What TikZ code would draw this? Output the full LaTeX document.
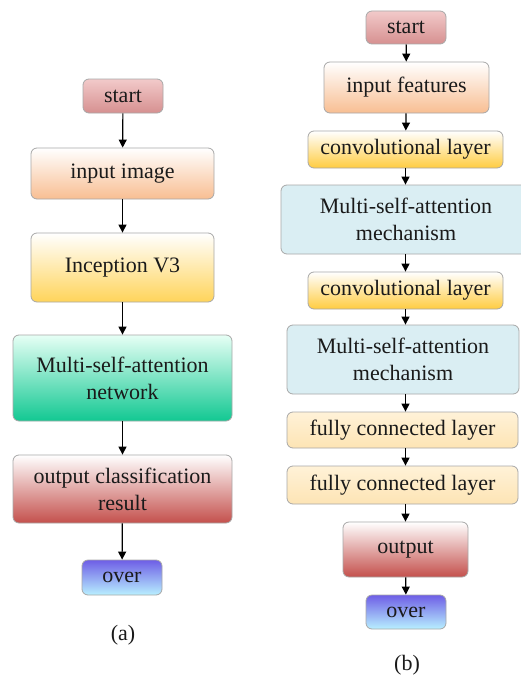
\documentclass[tikz,border=0pt]{standalone}
\usepackage{fontspec}
\setmainfont{Liberation Serif}
\usetikzlibrary{arrows.meta}
\definecolor{txt}{HTML}{1A1A1A}
\definecolor{bord}{HTML}{A8A8A8}
\definecolor{startT}{HTML}{F2CACA}
\definecolor{startB}{HTML}{D69090}
\definecolor{peach}{HTML}{F8BE92}
\definecolor{yell}{HTML}{FFD45A}
\definecolor{tealT}{HTML}{E6FFF5}
\definecolor{tealM}{HTML}{44E2B4}
\definecolor{tealB}{HTML}{12C892}
\definecolor{redB}{HTML}{C4504C}
\definecolor{overT}{HTML}{6E5EE6}
\definecolor{overB}{HTML}{B8F0FF}
\definecolor{lblue}{HTML}{DAEEF3}
\definecolor{fcT}{HTML}{FFF2D8}
\definecolor{fcB}{HTML}{FDE4B4}
\definecolor{convB}{HTML}{FFCC40}
\tikzset{
  box/.style={draw=bord, line width=0.8pt, rounded corners=6pt, align=center,
    inner sep=0pt, text=txt, font=\fontsize{22}{27}\selectfont},
  arr/.style={line width=1.2pt, -{Triangle[width=8pt,length=8pt]}},
}
\begin{document}
\begin{tikzpicture}[x=1pt,y=-1pt]
\useasboundingbox[fill=white] (0,0) rectangle (520,677);
% ----- (a) -----
\node[box, minimum width=80pt, minimum height=34pt, top color=startT, bottom color=startB] (sa) at (123,96) {start};
\node[box, minimum width=183pt, minimum height=51pt, top color=white, bottom color=peach] (ina) at (122.5,173.5) {input image};
\node[box, minimum width=183pt, minimum height=69pt, top color=white, bottom color=yell] (inc) at (122.5,267.5) {Inception V3};
\node[box, minimum width=219pt, minimum height=86pt, top color=tealT, middle color=tealM, bottom color=tealB] (msa) at (122.5,378) {Multi-self-attention\\network};
\node[box, minimum width=219pt, minimum height=68pt, top color=white, bottom color=redB] (outa) at (122.5,489) {output classification\\result};
\node[box, minimum width=80pt, minimum height=35pt, top color=overT, bottom color=overB] (ova) at (122,577.5) {over};
\node[text=txt, font=\fontsize{22}{27}\selectfont] (la) at (123,635) {(a)};
\draw[arr] (sa) -- (ina);
\draw[arr] (ina) -- (inc);
\draw[arr] (inc) -- (msa);
\draw[arr] (msa) -- (outa);
\draw[arr] (outa) -- (ova);
% ----- (b) -----
\node[box, minimum width=80pt, minimum height=33pt, top color=startT, bottom color=startB] (sb) at (406,27.5) {start};
\node[box, minimum width=165pt, minimum height=51pt, top color=white, bottom color=peach] (inf) at (406.5,87.5) {input features};
\node[box, minimum width=195pt, minimum height=37pt, top color=white, bottom color=convB] (c1) at (405.5,149.5) {convolutional layer};
\node[box, minimum width=250pt, minimum height=69pt, fill=lblue] (m1) at (406,219.5) {Multi-self-attention\\mechanism};
\node[box, minimum width=195pt, minimum height=37pt, top color=white, bottom color=convB] (c2) at (405.5,290.5) {convolutional layer};
\node[box, minimum width=232pt, minimum height=69pt, fill=lblue] (m2) at (403,359.5) {Multi-self-attention\\mechanism};
\node[box, minimum width=231pt, minimum height=36pt, top color=fcT, bottom color=fcB] (f1) at (402.5,430) {fully connected layer};
\node[box, minimum width=231pt, minimum height=38pt, top color=fcT, bottom color=fcB] (f2) at (402.5,485) {fully connected layer};
\node[box, minimum width=125pt, minimum height=55pt, top color=white, bottom color=redB] (ob) at (405.5,549.5) {output};
\node[box, minimum width=80pt, minimum height=34pt, top color=overT, bottom color=overB] (ovb) at (406,612) {over};
\node[text=txt, font=\fontsize{22}{27}\selectfont] (lb) at (407,665) {(b)};
\draw[arr] (sb) -- (inf);
\draw[arr] (inf) -- (c1);
\draw[arr] (c1.south) -- (c1.south |- m1.north);
\draw[arr] (c2.north |- m1.south) -- (c2.north);
\draw[arr] (c2.south) -- (c2.south |- m2.north);
\draw[arr] (c2.south |- m2.south) -- (c2.south |- f1.north);
\draw[arr] (c2.south |- f1.south) -- (c2.south |- f2.north);
\draw[arr] (ob.north |- f2.south) -- (ob.north);
\draw[arr] (ob) -- (ovb);
\end{tikzpicture}
\end{document}
